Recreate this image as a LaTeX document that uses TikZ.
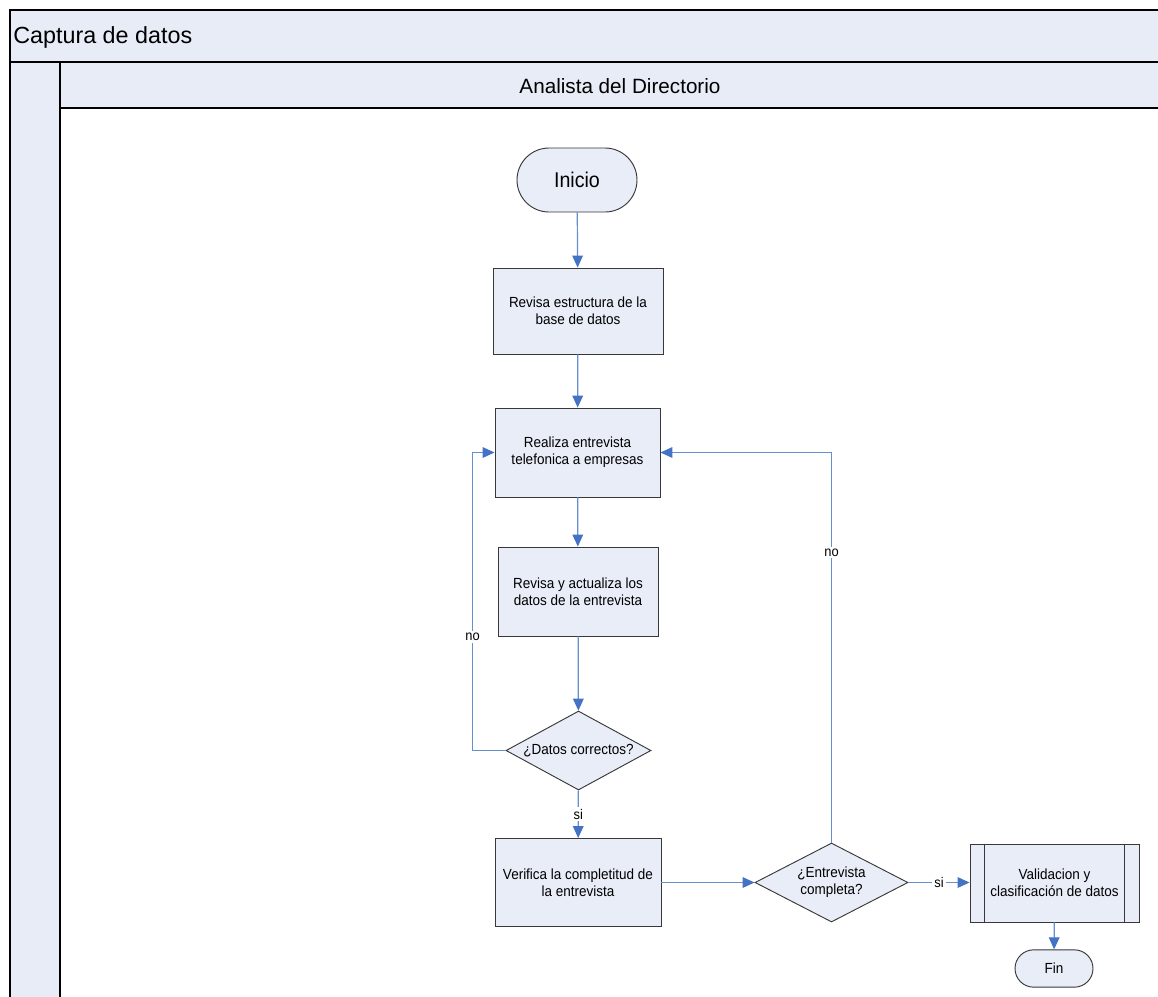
\documentclass[tikz,border=0pt]{standalone}
\usepackage{fontspec}
\setmainfont{Liberation Sans}
\newfontfamily\narrowfont[FakeStretch=0.92]{Liberation Sans}
\usetikzlibrary{shapes.geometric,shapes.misc,arrows.meta}
\definecolor{boxfill}{HTML}{E8EDF8}
\definecolor{headfill}{HTML}{E7ECF7}
\definecolor{lineblue}{HTML}{6590CC}
\definecolor{tipblue}{HTML}{4472C4}
\definecolor{border}{HTML}{383838}
\tikzset{
  procbox/.style={draw=border, line width=0.7pt, fill=boxfill, align=center, inner sep=2pt,
    font=\narrowfont\fontsize{11}{12.8}\selectfont},
  termbox/.style={draw=border, line width=0.7pt, fill=boxfill, rounded rectangle, inner sep=0pt},
  decbox/.style={draw=border, line width=0.7pt, fill=boxfill, diamond, inner sep=0pt},
  flow/.style={draw=lineblue, line width=0.9pt, -{Triangle[length=9pt,width=8pt,color=tipblue]}},
  lbl/.style={fill=white, inner sep=1.5pt, font=\narrowfont\fontsize{10.5}{12}\selectfont},
  difont/.style={font=\narrowfont\fontsize{11}{12.8}\selectfont, align=center}
}
\begin{document}
\begin{tikzpicture}[x=0.75pt,y=-0.75pt]
\useasboundingbox (0,0) rectangle (1158,997);
\clip (0,0) rectangle (1158,997);
\fill[white] (0,0) rectangle (1158,997);
% frame
\fill[headfill] (10,10) rectangle (1170,62);
\fill[headfill] (60,62) rectangle (1170,108);
\fill[headfill] (10,62) rectangle (60,1010);
\draw[line width=0.8pt] (10,1010) -- (10,10) -- (1170,10);
\draw[line width=1.6pt] (10,62) -- (1170,62);
\draw[line width=1pt] (60,108) -- (1170,108);
\draw[line width=0.8pt] (60,62) -- (60,1010);
\node[anchor=west, inner sep=0pt, font=\fontsize{17.5}{20}\selectfont] (title) at (13,37) {Captura de datos};
\node[font=\fontsize{15.5}{18}\selectfont] (lane) at (620,86) {Analista del Directorio};
% nodes
\node[termbox, minimum width=90pt, minimum height=48pt, font=\narrowfont\fontsize{16}{18}\selectfont] (ini) at (577,180) {Inicio};
\node[procbox, minimum width=127.5pt, minimum height=64.5pt] (rev1) at (578,311) {Revisa estructura de la\\base de datos};
\node[procbox, minimum width=123.75pt, minimum height=66.75pt] (real) at (577.5,452.5) {Realiza entrevista\\telefonica a empresas};
\node[procbox, minimum width=120pt, minimum height=66.75pt] (rev2) at (578,591.5) {Revisa y actualiza los\\datos de la entrevista};
\node[decbox, minimum width=108.75pt, minimum height=59.25pt,
  label={[difont]center:¿Datos correctos?}] (dec1) at (578.5,750.5) {};
\node[procbox, minimum width=124.5pt, minimum height=66pt] (ver) at (578,882.5) {Verifica la completitud de\\la entrevista};
\node[decbox, minimum width=114.75pt, minimum height=59.25pt,
  label={[difont]center:¿Entrevista\\completa?}] (dec2) at (831.5,882.5) {};
\node[procbox, minimum width=126.75pt, minimum height=58.5pt] (val) at (1054.5,883) {Validacion y\\clasificación de datos};
\draw[border, line width=0.7pt] ([xshift=11.25pt]val.north west) -- ([xshift=11.25pt]val.south west);
\draw[border, line width=0.7pt] ([xshift=-11.25pt]val.north east) -- ([xshift=-11.25pt]val.south east);
\node[termbox, minimum width=58.5pt, minimum height=28pt, font=\narrowfont\fontsize{11}{12}\selectfont] (fin) at (1054,968.5) {Fin};
% connectors
\draw[flow] (ini) -- (rev1);
\draw[flow] (rev1) -- (real);
\draw[flow] (real) -- (rev2);
\draw[flow] (rev2) -- (dec1);
\draw[flow] (dec1) -- node[lbl]{si} (ver);
\draw[flow] (ver.east) -- (ver.east -| dec2.west);
\draw[flow] (dec2.east) -- node[lbl]{si} (dec2.east -| val.west);
\draw[flow] (val) -- (fin);
\draw[flow] (dec1.west) -- ++(-33,0) |- node[pos=0.19, lbl]{no} (real.west);
\draw[flow] (dec2.north) |- node[pos=0.372, lbl]{no} (real.east);
\end{tikzpicture}
\end{document}
